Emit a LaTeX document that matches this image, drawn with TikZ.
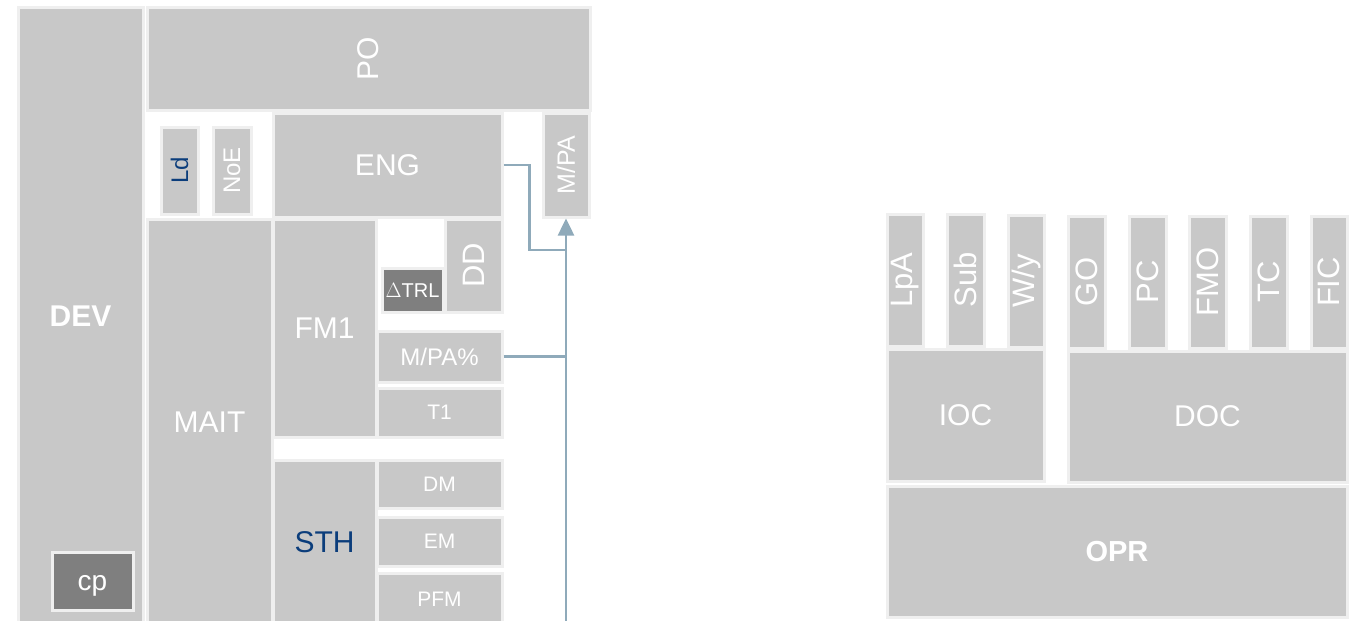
\documentclass[tikz,border=0pt]{standalone}
\usepackage{fontspec}
\setmainfont{Liberation Sans}
\usetikzlibrary{arrows.meta}
\definecolor{boxgray}{HTML}{C8C8C8}
\definecolor{edgegray}{HTML}{EFEFEF}
\definecolor{darkbox}{HTML}{7F7F7F}
\definecolor{bluetxt}{HTML}{0B3D7B}
\definecolor{arrowc}{HTML}{8FAABA}
\newcommand\bigf{\fontsize{30}{36}\selectfont}
\newcommand\rotf{\fontsize{31}{37}\selectfont}
\newcommand\midf{\fontsize{24}{29}\selectfont}
\newcommand\smlf{\fontsize{21}{25}\selectfont}
\newcommand\bx[7][]{\node[box,minimum width={(#4-#2)*1pt},minimum height={(#5-#3)*1pt},#1] (#6) at ({(#2+#4)/2},{-(#3+#5)/2}) {#7};}
\newcommand\rt[1]{\rotatebox{90}{#1}}
\tikzset{
  box/.style={rectangle, fill=boxgray, draw=edgegray, line width=3pt, inner sep=0pt, text=white, font=\bigf},
  darkbx/.style={fill=darkbox},
  conn/.style={draw=arrowc, line width=2.5pt},
}
\begin{document}
\begin{tikzpicture}[x=1pt,y=1pt]
\useasboundingbox[fill=white] (0,0) rectangle (1358,-621);
% left panel
\bx[font=\bfseries\bigf]{18}{7}{143}{625}{dev}{DEV}
\bx{147}{7}{590}{110}{po}{\rt{PO}}
\bx[text=bluetxt,font=\midf]{161}{127}{198}{214}{ld}{\rt{Ld}}
\bx[font=\midf]{213}{127}{251}{214}{noe}{\rt{NoE}}
\bx{273}{113}{502}{217}{eng}{ENG}
\bx[font=\fontsize{25}{30}\selectfont]{543}{113}{589}{217}{mpa}{\rt{M/PA}}
\bx{147}{219}{272}{625}{mait}{MAIT}
\bx{273}{219}{376}{437}{fm}{FM1}
\bx[font=\rotf]{445}{219}{502}{312}{dd}{\rt{DD}}
\bx[darkbx,font=\fontsize{20}{24}\selectfont]{382}{268}{443}{312}{trl}{$\Delta$TRL}
\bx[font=\midf]{377}{331}{502}{382}{mpapct}{M/PA\%}
\bx[font=\smlf]{377}{388}{502}{437}{tone}{T1}
\bx[text=bluetxt]{273}{460}{376}{625}{sth}{STH}
\bx[font=\smlf]{377}{460}{502}{508}{dm}{DM}
\bx[font=\smlf]{377}{517}{502}{566}{em}{EM}
\bx[font=\smlf]{377}{573}{502}{625}{pfm}{PFM}
\bx[darkbx,font=\fontsize{28}{34}\selectfont]{52}{552}{133}{610}{cp}{\raisebox{-5pt}[14.8pt][5.9pt]{cp}}
% connectors
\coordinate (bot) at (566,-625);
\coordinate (j1) at (566,-250);
\draw[conn, -{Triangle[width=16pt,length=17pt]}] (bot) -- (mpa.south);
\draw[conn] (eng.east) -- ++(26,0) |- (j1);
\draw[conn] (mpapct.east) -- (mpapct.east -| bot);
% right panel
\bx[font=\rotf]{887}{214}{923}{346}{lpa}{\rt{LpA}}
\bx[font=\rotf]{947}{214}{984}{346}{sub}{\rt{Sub}}
\bx[font=\rotf]{1008}{215}{1044}{347}{wy}{\rt{W/y}}
\bx[font=\rotf]{1068}{216}{1105}{348}{go}{\rt{GO}}
\bx[font=\rotf]{1129}{216}{1166}{348}{pc}{\rt{PC}}
\bx[font=\rotf]{1189}{216}{1226}{348}{fmo}{\rt{FMO}}
\bx[font=\rotf]{1250}{216}{1287}{348}{tc}{\rt{TC}}
\bx[font=\rotf]{1311}{216}{1347}{348}{fic}{\rt{FIC}}
\bx{887}{349}{1044}{481}{ioc}{IOC}
\bx{1068}{351}{1347}{482}{doc}{DOC}
\bx[font=\bfseries\fontsize{29}{35}\selectfont]{887}{486}{1347}{617}{opr}{OPR}
\end{tikzpicture}
\end{document}
